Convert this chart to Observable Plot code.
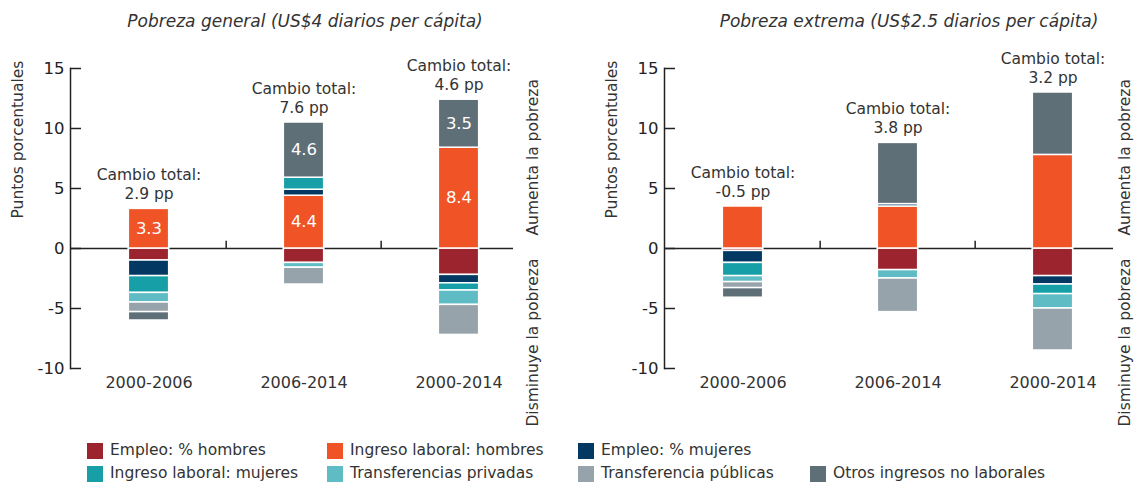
<!DOCTYPE html>
<html><head><meta charset="utf-8">
<script src="https://cdn.jsdelivr.net/npm/d3@7"></script>
<script src="https://cdn.jsdelivr.net/npm/@observablehq/plot@0.6"></script>
<style>
body{margin:0;background:#fff;font-family:"DejaVu Sans",sans-serif;color:#333;}
#root{position:relative;width:1135px;height:485px;overflow:hidden;}
.title{position:absolute;top:11px;font-style:italic;font-size:17px;white-space:nowrap;transform:translateX(-50%);color:#333;}
.panel{position:absolute;top:40px;}
.legend{position:absolute;left:87px;top:441px;display:grid;grid-template-columns:240px 251px 232px auto;row-gap:4px;}
.item{display:flex;align-items:center;font-size:15.5px;color:#333;line-height:19px;white-space:nowrap;}
.sw{width:16px;height:16px;margin-right:7px;flex:none;}
</style></head><body><div id="root"></div>
<script>
const categories = ["2000-2006", "2006-2014", "2000-2014"];
const components = [
  "Empleo: % hombres",
  "Ingreso laboral: hombres",
  "Empleo: % mujeres",
  "Ingreso laboral: mujeres",
  "Transferencias privadas",
  "Transferencia públicas",
  "Otros ingresos no laborales"
];
const colors = ["#9c242e", "#f05426", "#033863", "#169fa7", "#5fbbc4", "#96a3aa", "#5f6f78"];
const yTicks = [-10, -5, 0, 5, 10, 15];

// Pobreza general: one array per component, values per category
const generalEmpleoHombres   = [-1.0, -1.2, -2.2];
const generalIngresoHombres  = [ 3.3,  4.4,  8.4];
const generalEmpleoMujeres   = [-1.3,  0.5, -0.7];
const generalIngresoMujeres  = [-1.4,  1.0, -0.6];
const generalTransfPrivadas  = [-0.8, -0.4, -1.2];
const generalTransfPublicas  = [-0.8, -1.4, -2.5];
const generalOtros           = [-0.7,  4.6,  4.0];
const generalTotals = ["2.9 pp", "7.6 pp", "4.6 pp"];
const generalSegmentLabels = [
  ["2000-2006", "Ingreso laboral: hombres", "3.3"],
  ["2006-2014", "Ingreso laboral: hombres", "4.4"],
  ["2006-2014", "Otros ingresos no laborales", "4.6"],
  ["2000-2014", "Ingreso laboral: hombres", "8.4"],
  ["2000-2014", "Otros ingresos no laborales", "3.5"]
];

// Pobreza extrema
const extremaEmpleoHombres   = [-0.2, -1.8, -2.3];
const extremaIngresoHombres  = [ 3.5,  3.5,  7.8];
const extremaEmpleoMujeres   = [-1.0,  0.2, -0.7];
const extremaIngresoMujeres  = [-1.1,  0.0, -0.8];
const extremaTransfPrivadas  = [-0.5, -0.7, -1.2];
const extremaTransfPublicas  = [-0.5, -2.8, -3.5];
const extremaOtros           = [-0.8,  5.1,  5.2];
const extremaTotals = ["-0.5 pp", "3.8 pp", "3.2 pp"];
const extremaSegmentLabels = [];

const titles = ["Pobreza general (US$4 diarios per cápita)", "Pobreza extrema (US$2.5 diarios per cápita)"];
const yLabel = "Puntos porcentuales";
const upLabel = "Aumenta la pobreza";
const downLabel = "Disminuye la pobreza";

const FONT = '"DejaVu Sans", sans-serif';

function makePanel(values, totals, segLabels, width, marginLeft, marginRight, bracketDx, zeroInset) {
  const rows = [];
  components.forEach((comp, ci) => categories.forEach((cat, k) => {
    const lab = segLabels.find(s => s[0] === cat && s[1] === comp);
    rows.push({cat, comp, value: values[ci][k], label: lab ? lab[2] : ""});
  }));
  const tops = categories.map((cat, k) => ({
    cat,
    top: d3.sum(values, v => Math.max(0, v[k])),
    text: "Cambio total:\n" + totals[k]
  }));
  const step = (width - marginLeft - marginRight) / categories.length;
  const inset = (step - 41) / 2;
  return Plot.plot({
    width, height: 400,
    marginTop: 28, marginBottom: 72, marginLeft, marginRight,
    style: {fontFamily: FONT, fontSize: "16px", color: "#333", background: "transparent"},
    x: {domain: categories, padding: 0, axis: null},
    y: {domain: [-10, 15], axis: null},
    color: {domain: components, range: colors},
    marks: [
      Plot.ruleY([0], {stroke: "#222", strokeWidth: 1.5, insetRight: zeroInset}),
      Plot.ruleX(categories.slice(1), {x: d => d, y1: 0, y2: 0.6, dx: -step / 2, stroke: "#222", strokeWidth: 1.5}),
      Plot.barY(rows, {x: "cat", y: "value", fill: "comp", stroke: "white", strokeWidth: 1.5, insetLeft: inset, insetRight: inset}),
      Plot.text(rows, Plot.stackY({x: "cat", y: "value", z: "comp", text: "label", fill: "white", fontSize: 16.5})),
      Plot.text(tops, {x: "cat", y: "top", text: "text", lineAnchor: "bottom", dy: -10, lineHeight: 1.2, fontSize: 15.5, fill: "#333"}),
      Plot.frame({anchor: "left", stroke: "#222", strokeWidth: 1.5}),
      Plot.axisY({ticks: yTicks, tickFormat: d => String(d), tickSize: -11, tickPadding: 17, fontSize: 16.5, label: null, color: "#222", strokeWidth: 1.5}),
      Plot.axisX({tickSize: 0, tickPadding: 8, fontSize: 16, label: null, color: "#333"}),
      Plot.text([yLabel], {frameAnchor: "left", rotate: -90, dx: -52, fontSize: 15.5, fill: "#333"}),
      Plot.text([upLabel], {frameAnchor: "right", y: () => 0, rotate: -90, textAnchor: "start", dx: bracketDx, dy: -13, fontSize: 15.5, fill: "#333"}),
      Plot.text([downLabel], {frameAnchor: "right", y: () => 0, rotate: -90, textAnchor: "end", dx: bracketDx, dy: 10, fontSize: 15.5, fill: "#333"})
    ]
  });
}

const root = document.getElementById("root");

const generalValues = [generalEmpleoHombres, generalIngresoHombres, generalEmpleoMujeres, generalIngresoMujeres, generalTransfPrivadas, generalTransfPublicas, generalOtros];
const extremaValues = [extremaEmpleoHombres, extremaIngresoHombres, extremaEmpleoMujeres, extremaIngresoMujeres, extremaTransfPrivadas, extremaTransfPublicas, extremaOtros];

const left = makePanel(generalValues, generalTotals, generalSegmentLabels, 567, 70, 30, -4, 24);
left.classList.add("panel"); left.style.left = "0px";
root.appendChild(left);

const right = makePanel(extremaValues, extremaTotals, extremaSegmentLabels, 541, 70, 4, -6, 18);
right.classList.add("panel"); right.style.left = "594px";
root.appendChild(right);

[[titles[0], 305], [titles[1], 909]].forEach(([t, cx]) => {
  const d = document.createElement("div");
  d.className = "title"; d.textContent = t; d.style.left = cx + "px";
  root.appendChild(d);
});

const legend = document.createElement("div");
legend.className = "legend";
components.forEach((c, i) => {
  const it = document.createElement("div");
  it.className = "item";
  it.style.gridRow = i < 3 ? 1 : 2;
  it.style.gridColumn = i < 3 ? i + 1 : i - 2;
  const sw = document.createElement("span");
  sw.className = "sw"; sw.style.background = colors[i];
  it.appendChild(sw);
  it.appendChild(document.createTextNode(c));
  legend.appendChild(it);
});
root.appendChild(legend);
</script>
</body></html>
